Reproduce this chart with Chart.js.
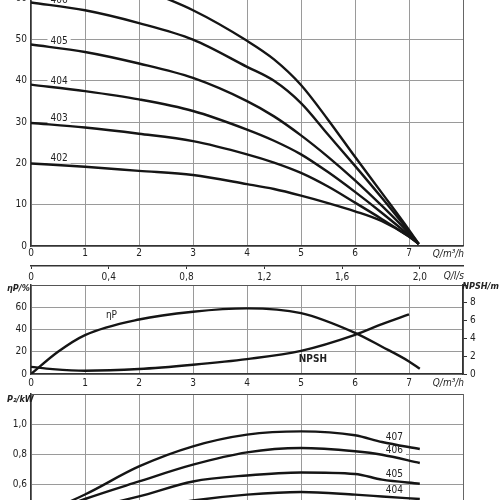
<!DOCTYPE html>
<html>
<head>
<meta charset="utf-8">
<script src="https://cdn.jsdelivr.net/npm/chart.js@4.4.0/dist/chart.umd.min.js"></script>
<style>
html, body { margin: 0; padding: 0; background: #fff; overflow: hidden; width: 500px; height: 500px; }
.panel { position: absolute; left: 0; width: 500px; }
canvas { display: block; }
</style>
</head>
<body>
<div class="panel" style="top:-56px"><canvas id="headChart" width="500" height="346"></canvas></div>
<div class="panel" style="top:274px"><canvas id="effChart" width="500" height="118"></canvas></div>
<div class="panel" style="top:383px"><canvas id="powerChart" width="500" height="216"></canvas></div>
<script>
// Q-H curves, one per stage count
var headFlow = [0, 1, 2, 3, 4, 4.5, 5, 5.5, 6, 6.5, 7, 7.18];
var head402 = [20, 19.2, 18.2, 17.2, 15, 13.8, 12.2, 10.4, 8.4, 6, 2.3, 0.5];
var head403 = [29.8, 28.7, 27.2, 25.4, 22.2, 20.2, 17.7, 14.4, 10.5, 6.5, 2.3, 0.5];
var head404 = [39.1, 37.5, 35.5, 32.7, 28.2, 25.5, 22.2, 17.9, 13.1, 8, 2.6, 0.5];
var head405 = [48.8, 47, 44.2, 40.7, 35.1, 31.4, 26.8, 21.6, 15.9, 9.7, 3.1, 0.5];
var head406 = [59, 57.1, 54, 50, 43.4, 40, 34.6, 27, 19.4, 11.6, 3.5, 0.5];
var head407 = [68.5, 67, 62.5, 57.1, 49.7, 45.2, 39, 30.6, 21.6, 12.8, 3.9, 0.5];

// efficiency and NPSH
var etaFlow = [0, 0.5, 1, 2, 3, 4, 5, 6, 6.5, 7, 7.2];
var etaValues = [0, 20, 35, 49, 56, 59, 54.7, 37, 24.5, 11.3, 4.7];
var npshFlow = [0, 0.4, 1, 2, 3, 4, 5, 6, 6.5, 7];
var npshValues = [0.8, 0.55, 0.37, 0.56, 1.04, 1.67, 2.6, 4.4, 5.6, 6.7];

// shaft power
var powerFlow = [0, 1, 2, 3, 4, 5, 6, 6.5, 7.2];
var power404 = [0.28, 0.36, 0.43, 0.49, 0.529, 0.547, 0.529, 0.517, 0.50];
var power405 = [0.33, 0.43, 0.517, 0.617, 0.657, 0.677, 0.667, 0.629, 0.602];
var power406 = [0.36, 0.50, 0.617, 0.729, 0.811, 0.84, 0.818, 0.795, 0.74];
var power407 = [0.37, 0.53, 0.717, 0.851, 0.929, 0.951, 0.925, 0.88, 0.833];

var qMax = 8;
var lsPerM3h = 1 / 3.6;

var textFont = '"Liberation Sans Narrow", "DejaVu Sans Condensed", sans-serif';
Chart.defaults.font.family = textFont;
Chart.defaults.font.size = 10;
Chart.defaults.color = '#222';

var gridGrey = '#9a9a9a';
var frameDark = '#333';

function points(xs, ys) {
    var out = [];
    for (var i = 0; i < xs.length; i++) out.push({ x: xs[i], y: ys[i] });
    return out;
}

function curve(tag, xs, ys, axis) {
    return {
        tag: tag,
        data: points(xs, ys),
        borderColor: '#151515',
        borderWidth: 2.4,
        pointRadius: 0,
        fill: false,
        cubicInterpolationMode: 'monotone',
        yAxisID: axis || 'y'
    };
}

function valueAt(data, x) {
    for (var i = 1; i < data.length; i++) {
        if (x <= data[i].x) {
            var t = (x - data[i - 1].x) / (data[i].x - data[i - 1].x);
            return data[i - 1].y + t * (data[i].y - data[i - 1].y);
        }
    }
    return data[data.length - 1].y;
}

function comma(v) {
    return v === 0 ? '0' : v.toFixed(1).replace('.', ',');
}

function note(ctx, text, x, y, align, font) {
    ctx.save();
    ctx.font = font || ('10px ' + textFont);
    ctx.fillStyle = '#222';
    ctx.textAlign = align;
    ctx.textBaseline = 'middle';
    ctx.fillText(text, x, y);
    ctx.restore();
}

var titleFont = 'italic bold 9px ' + textFont;

// stage numbers sitting on the curves, with a white box behind
var curveTags = {
    id: 'curveTags',
    beforeDatasetsDraw: function (chart, args, opts) {
        if (opts.at === undefined) return;
        var ctx = chart.ctx;
        var xs = chart.scales.x, ys = chart.scales.y;
        ctx.save();
        ctx.font = '10px ' + textFont;
        ctx.textAlign = 'center';
        ctx.textBaseline = 'middle';
        chart.data.datasets.forEach(function (ds) {
            if (!ds.tag) return;
            var px = xs.getPixelForValue(opts.at);
            var py = ys.getPixelForValue(valueAt(ds.data, opts.at)) - opts.lift;
            var w = ctx.measureText(ds.tag).width + 6;
            ctx.fillStyle = '#fff';
            ctx.fillRect(px - w / 2, py - 5, w, 10);
            ctx.fillStyle = '#222';
            ctx.fillText(ds.tag, px, py);
        });
        ctx.restore();
    }
};
Chart.register(curveTags);

function qAxis(height, pad) {
    return {
        type: 'linear', position: 'bottom', min: 0, max: qMax, weight: 0,
        afterFit: function (s) { s.height = height; },
        ticks: { stepSize: 1, padding: pad, maxRotation: 0, callback: function (v) { return v === qMax ? '' : v; } },
        grid: { drawTicks: false, color: function (c) { return c.tick && c.tick.value === qMax ? '#666' : gridGrey; } },
        border: { color: frameDark, width: 1.5 }
    };
}

var baseOptions = function () {
    return {
        responsive: false,
        animation: false,
        events: [],
        plugins: { legend: { display: false }, tooltip: { enabled: false } }
    };
};

// ---- head chart ----
var headOpts = baseOptions();
headOpts.layout = { padding: { top: 13, right: 37, bottom: 4, left: 0 } };
headOpts.plugins.curveTags = { at: 0.52, lift: 6.5 };
headOpts.scales = {
    x: qAxis(20, 1),
    x2: {
        type: 'linear', position: 'bottom', min: 0, max: qMax * lsPerM3h, weight: 1,
        afterFit: function (s) { s.height = 20; },
        ticks: { stepSize: 0.4, includeBounds: false, padding: 2, maxRotation: 0, callback: comma },
        grid: { drawOnChartArea: false, drawTicks: true, tickLength: 3, color: frameDark },
        border: { color: frameDark, width: 1.5 }
    },
    y: {
        min: 0, max: 70,
        afterFit: function (s) { s.width = 31; },
        ticks: { stepSize: 10, padding: 4 },
        grid: { drawTicks: false, color: gridGrey },
        border: { color: frameDark, width: 1.5 }
    }
};
new Chart(document.getElementById('headChart'), {
    type: 'line',
    data: {
        datasets: [
            curve('402', headFlow, head402),
            curve('403', headFlow, head403),
            curve('404', headFlow, head404),
            curve('405', headFlow, head405),
            curve('406', headFlow, head406),
            curve('407', headFlow, head407)
        ]
    },
    options: headOpts,
    plugins: [{
        id: 'headNotes',
        afterDraw: function (chart) {
            var a = chart.chartArea;
            note(chart.ctx, 'Q/m³/h', a.right + 1, a.bottom + 8, 'right', 'italic 10px ' + textFont);
            note(chart.ctx, 'Q/l/s', a.right + 1, chart.scales.x2.top + 10, 'right', 'italic 10px ' + textFont);
        }
    }]
});

// ---- efficiency / NPSH chart ----
var effOpts = baseOptions();
effOpts.layout = { padding: { top: 11, right: 0, bottom: 0, left: 0 } };
effOpts.scales = {
    x: qAxis(18, 3),
    y: {
        min: 0, max: 80,
        afterFit: function (s) { s.width = 31; },
        ticks: { stepSize: 20, padding: 4, callback: function (v) { return v === 80 ? '' : v; } },
        grid: { drawTicks: false, color: function (c) { return c.tick && c.tick.value === 80 ? '#555' : gridGrey; } },
        border: { color: frameDark, width: 1.5 }
    },
    y2: {
        position: 'right', min: 0, max: 10,
        afterFit: function (s) { s.width = 37; },
        ticks: { stepSize: 2, padding: 3, callback: function (v) { return v === 10 ? '' : v; } },
        grid: { drawOnChartArea: false, drawTicks: true, tickLength: 4, color: frameDark },
        border: { color: frameDark, width: 1.5 }
    }
};
new Chart(document.getElementById('effChart'), {
    type: 'line',
    data: {
        datasets: [
            curve(null, etaFlow, etaValues, 'y'),
            curve(null, npshFlow, npshValues, 'y2')
        ]
    },
    options: effOpts,
    plugins: [{
        id: 'effNotes',
        afterDraw: function (chart) {
            var a = chart.chartArea, xs = chart.scales.x, ys = chart.scales.y;
            note(chart.ctx, 'ηP/%', 7, 15, 'left', titleFont);
            note(chart.ctx, 'NPSH/m', 499, 13, 'right', titleFont);
            note(chart.ctx, 'Q/m³/h', a.right + 1, a.bottom + 9, 'right', 'italic 10px ' + textFont);
            note(chart.ctx, 'ηP', xs.getPixelForValue(1.49), ys.getPixelForValue(52.6), 'center');
            note(chart.ctx, 'NPSH', xs.getPixelForValue(5.22), ys.getPixelForValue(12.9), 'center', 'bold 10px ' + textFont);
        }
    }]
});

// ---- power chart ----
var powOpts = baseOptions();
powOpts.layout = { padding: { top: 11, right: 37, bottom: 5, left: 0 } };
powOpts.plugins.curveTags = { at: 6.73, lift: 7 };
powOpts.scales = {
    x: qAxis(20, 3),
    y: {
        min: 0, max: 1.2,
        afterFit: function (s) { s.width = 31; },
        ticks: { stepSize: 0.2, padding: 4, callback: function (v) { return Math.abs(v - 1.2) < 1e-6 ? '' : comma(v); } },
        grid: { drawTicks: false, color: function (c) { return c.tick && Math.abs(c.tick.value - 1.2) < 1e-6 ? '#555' : gridGrey; } },
        border: { color: frameDark, width: 1.5 }
    }
};
new Chart(document.getElementById('powerChart'), {
    type: 'line',
    data: {
        datasets: [
            curve('404', powerFlow, power404),
            curve('405', powerFlow, power405),
            curve('406', powerFlow, power406),
            curve('407', powerFlow, power407)
        ]
    },
    options: powOpts,
    plugins: [{
        id: 'powNotes',
        afterDraw: function (chart) {
            note(chart.ctx, 'P₂/kW', 7, 17, 'left', titleFont);
        }
    }]
});
</script>
</body>
</html>
